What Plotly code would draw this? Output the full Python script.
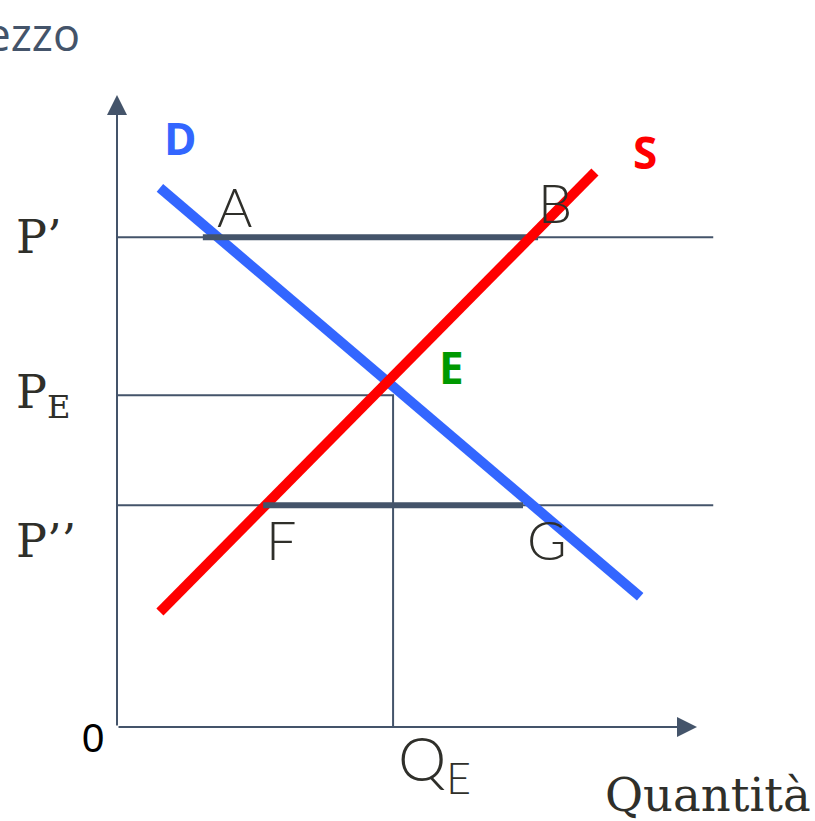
import plotly.graph_objects as go

# curve di domanda (D) e offerta (S): quantità e prezzo
domanda_q = [0.74, 9.02]
domanda_p = [8.53, 2.06]
offerta_q = [0.74, 8.24]
offerta_p = [1.82, 8.78]

# livelli di prezzo e quantità di equilibrio
p_alto = 7.75    # P'
p_eq = 5.25      # PE
p_basso = 3.51   # P''
q_eq = 4.76      # QE
q_fine = 10.28   # dove finiscono le linee orizzontali sottili

# tratti spessi: eccesso di offerta (A-B) e di domanda (F-G)
ab_q = [1.48, 7.26]
fg_q = [2.52, 7.00]

grigio = "#44546A"
testo = "#2F2F2A"
serif = "DejaVu Serif"
sans_light = "Lato"

fig = go.Figure()

def linea(x, y, colore, spessore):
    fig.add_trace(go.Scatter(x=x, y=y, mode="lines", hoverinfo="skip",
                             line=dict(color=colore, width=spessore)))

# linee guida sottili
linea([0, q_fine], [p_alto, p_alto], grigio, 2)
linea([0, q_fine], [p_basso, p_basso], grigio, 2)
linea([0, q_eq, q_eq], [p_eq, p_eq, 0], grigio, 2)

# curve
linea(domanda_q, domanda_p, "#3366FF", 10)
linea(ab_q, [p_alto, p_alto], grigio, 6)
linea(offerta_q, offerta_p, "#FF0000", 10)
linea(fg_q, [p_basso, p_basso], grigio, 6)

# assi con freccia
for x, y in [(0, 10), (10, 0)]:
    fig.add_annotation(x=x, y=y, ax=0, ay=0, xref="x", yref="y", axref="x", ayref="y",
                       text="", showarrow=True, arrowhead=2, arrowsize=2,
                       arrowwidth=2, arrowcolor=grigio)

def etichetta(x, y, t, size, colore=testo, famiglia=sans_light, peso=None, **kw):
    f = dict(size=size, color=colore, family=famiglia)
    if peso:
        f["weight"] = peso
    fig.add_annotation(x=x, y=y, xref="x", yref="y", text=t, showarrow=False, font=f, **kw)

etichetta(-0.60, 10.97, "Prezzo", 45, grigio, "Open Sans", xanchor="right")
etichetta(10.19, -1.08, "Quantità", 46.5, testo, serif)
etichetta(-1.77, p_alto, "P’", 46, testo, serif, xanchor="left")
etichetta(-1.77, p_eq, "P<sub>E</sub>", 46, testo, serif, xanchor="left")
etichetta(-1.77, 2.94, "P’’", 46, testo, serif, xanchor="left")
etichetta(-0.41, -0.17, "0", 40, "#000000", "Liberation Sans")
etichetta(5.48, -0.56, "Q<sub>E</sub>", 61, testo, peso=300)

etichetta(2.02, 8.24, "A", 54, peso=300)
etichetta(7.55, 8.30, "B", 54, peso=300)
etichetta(2.83, 2.96, "F", 54, peso=300)
etichetta(7.41, 2.97, "G", 54, peso=300)

etichetta(1.10, 9.32, "D", 44, "#3366FF", "Open Sans", peso=700)
etichetta(9.10, 9.10, "S", 44, "#FF0000", "Open Sans", peso=700)
etichetta(5.76, 5.70, "E", 44, "#009900", "Open Sans", peso=700)

fig.update_layout(
    width=815, height=821,
    margin=dict(l=0, r=0, t=0, b=0),
    plot_bgcolor="white", paper_bgcolor="white",
    showlegend=False,
    xaxis=dict(range=[-117 / 58, 698 / 58], visible=False, fixedrange=True),
    yaxis=dict(range=[-94 / 63.2, 727 / 63.2], visible=False, fixedrange=True),
)

# niente margine della pagina, così il grafico parte dall'angolo
fig.write_html("out.html", config={"displayModeBar": False},
               post_script="document.body.style.margin = '0';")
